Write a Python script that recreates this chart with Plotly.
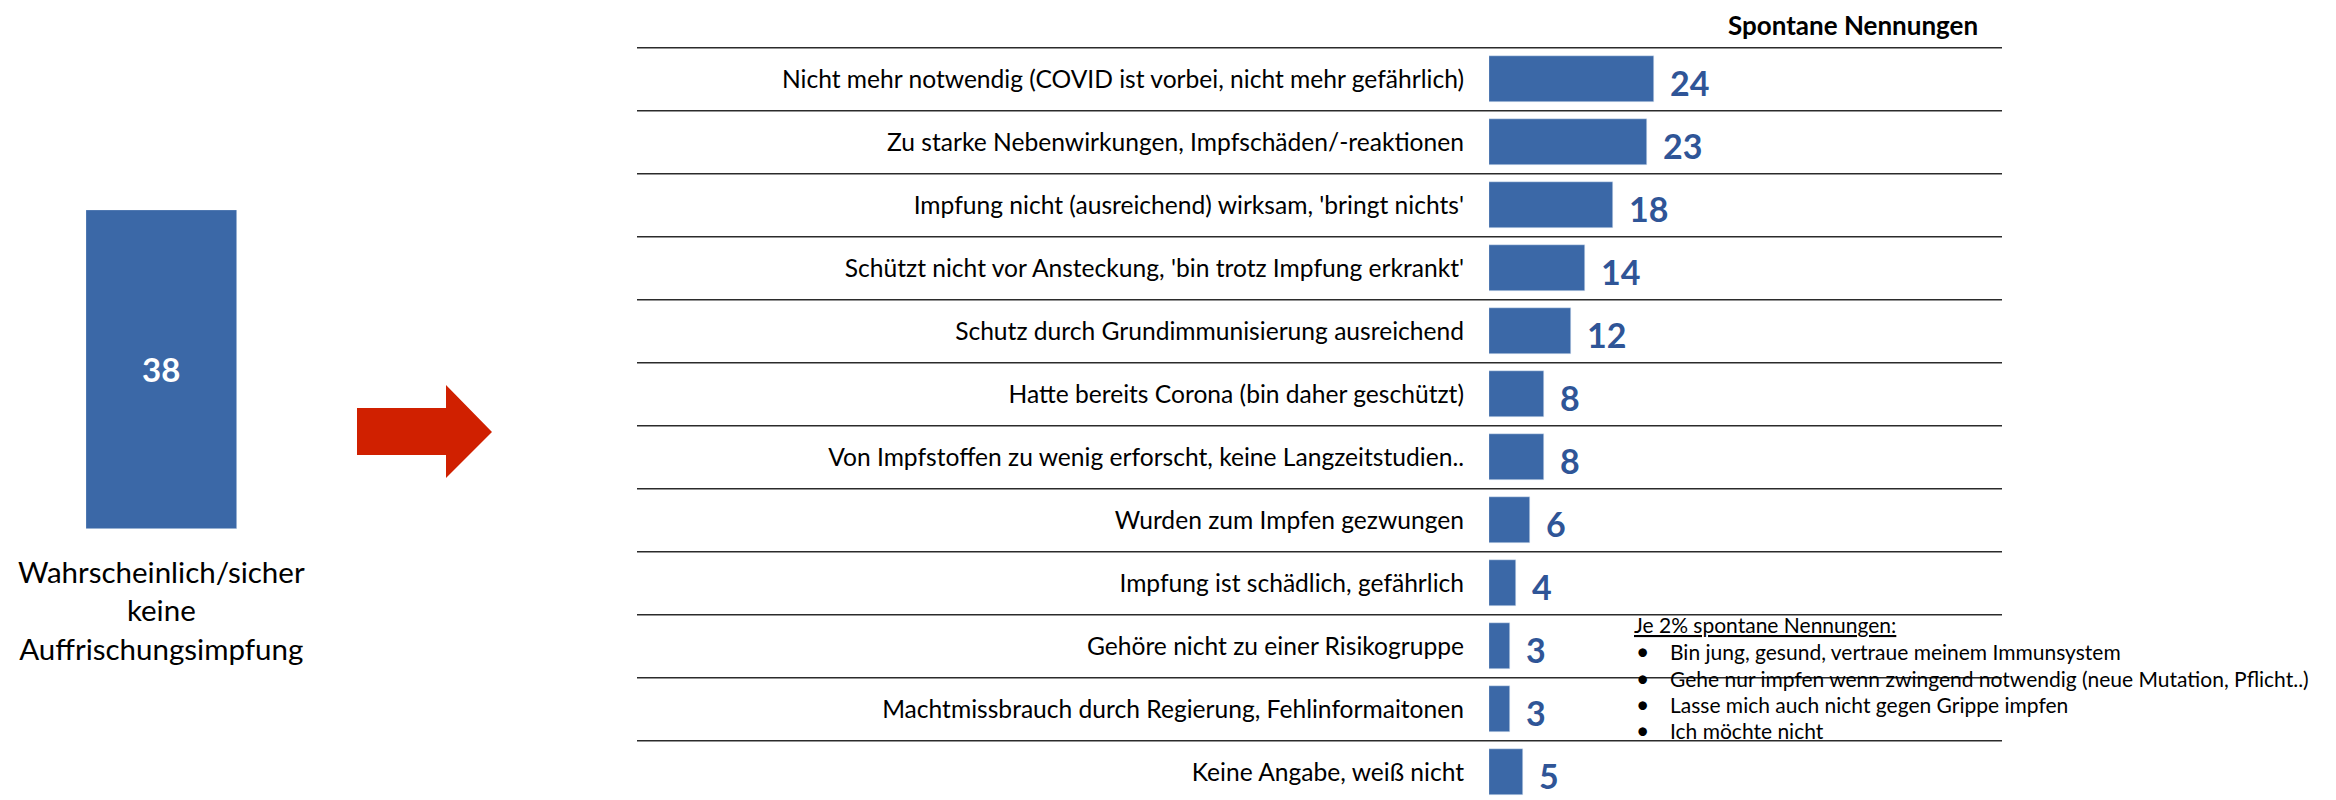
import plotly.graph_objects as go

# ---------------- data ----------------
categories = [
    "Nicht mehr notwendig (COVID ist vorbei, nicht mehr gefährlich)",
    "Zu starke Nebenwirkungen, Impfschäden/-reaktionen",
    "Impfung nicht (ausreichend) wirksam, 'bringt nichts'",
    "Schützt nicht vor Ansteckung, 'bin trotz Impfung erkrankt'",
    "Schutz durch Grundimmunisierung ausreichend",
    "Hatte bereits Corona (bin daher geschützt)",
    "Von Impfstoffen zu wenig erforscht, keine Langzeitstudien..",
    "Wurden zum Impfen gezwungen",
    "Impfung ist schädlich, gefährlich",
    "Gehöre nicht zu einer Risikogruppe",
    "Machtmissbrauch durch Regierung, Fehlinformaitonen",
    "Keine Angabe, weiß nicht",
]
values = [24, 23, 18, 14, 12, 8, 8, 6, 4, 3, 3, 5]

total_label = "Wahrscheinlich/sicher<br>keine<br>Auffrischungsimpfung"
total_value = 38

header = "Spontane Nennungen"
note_title = "Je 2% spontane Nennungen:"
note_items = [
    "Bin jung, gesund, vertraue meinem Immunsystem",
    "Gehe nur impfen wenn zwingend notwendig (neue Mutation, Pflicht..)",
    "Lasse mich auch nicht gegen Grippe impfen",
    "Ich möchte nicht",
]

# ---------------- style ----------------
W, H = 2336, 800
OFF = 8  # page body margin
FONT = "Lato"
BAR = "#3B68A7"
VAL = "#2F5597"
RED = "#D02000"

def px(x):
    return (x - OFF) / W

def py(y):
    return 1 - (y - OFF) / H

rows = list(range(len(categories)))

fig = go.Figure()

# right: horizontal bars
fig.add_trace(go.Bar(
    x=values, y=rows, orientation="h", marker_color=BAR, width=0.73,
    xaxis="x", yaxis="y", hoverinfo="skip", showlegend=False,
))

# left: single column
fig.add_trace(go.Bar(
    x=[0], y=[total_value], marker_color=BAR, width=1.0,
    text=[str(total_value)], textposition="inside", insidetextanchor="middle",
    textfont=dict(family=FONT, size=33, color="white", weight="bold"),
    xaxis="x2", yaxis="y2", hoverinfo="skip", showlegend=False,
))

row_h = 63.0
top_line = 47.7 - OFF
y_top = -0.5 - top_line / row_h
y_bot = -0.5 + (H - top_line) / row_h

shapes = []
for r in rows:
    shapes.append(dict(type="line", xref="paper", yref="y",
                       x0=px(637), x1=px(2002), y0=r - 0.5, y1=r - 0.5,
                       line=dict(color="#2b2b2b", width=1.6)))

# arrow
pts = [(357, 408), (446, 408), (446, 385), (492, 432), (446, 478), (446, 455), (357, 455)]
path = "M " + " L ".join(f"{px(x):.5f},{py(y):.5f}" for x, y in pts) + " Z"
shapes.append(dict(type="path", xref="paper", yref="paper", path=path,
                   fillcolor=RED, line=dict(width=0)))

annotations = []
for r, v in zip(rows, values):
    annotations.append(dict(x=v, y=r, xref="x", yref="y", text=f"<b>{v}</b>",
                            xanchor="left", yanchor="middle", xshift=14, yshift=-3,
                            showarrow=False,
                            font=dict(family=FONT, size=34, color=VAL)))

annotations.append(dict(x=px(1979), y=1, xref="paper", yref="paper",
                        text=f"<b>{header}</b>", xanchor="right", yanchor="top",
                        borderpad=0, showarrow=False,
                        font=dict(family=FONT, size=26, color="black")))

annotations.append(dict(x=0, y=py(552), xref="x2", yref="paper", text=total_label,
                        xanchor="center", yanchor="top", align="center", showarrow=False,
                        font=dict(family=FONT, size=29.5, color="black")))

NF = 21
annotations.append(dict(x=px(1632), y=py(624), xref="paper", yref="paper",
                        text=f"<u>{note_title}</u>", xanchor="left", yanchor="middle",
                        showarrow=False, font=dict(family=FONT, size=NF, color="black")))
note_ys = [651, 678, 704, 730]
for t, yy in zip(note_items, note_ys):
    annotations.append(dict(x=px(1634), y=py(yy), xref="paper", yref="paper",
                            text="•", xanchor="left", yanchor="middle",
                            showarrow=False, font=dict(family=FONT, size=NF + 2, color="black")))
    annotations.append(dict(x=px(1668), y=py(yy), xref="paper", yref="paper",
                            text=t, xanchor="left", yanchor="middle",
                            showarrow=False, font=dict(family=FONT, size=NF, color="black")))

fig.update_layout(
    width=W, height=H,
    margin=dict(l=0, r=0, t=0, b=0),
    paper_bgcolor="white", plot_bgcolor="white",
    font=dict(family=FONT, color="black"),
    bargap=0,
    xaxis=dict(domain=[px(1489), px(2002)], range=[0, 513 / 6.87],
               visible=False, fixedrange=True),
    yaxis=dict(domain=[0, 1], range=[y_bot, y_top], tickmode="array",
               tickvals=rows, ticktext=categories, showgrid=False, zeroline=False,
               showline=False, ticks="", ticklabelstandoff=24,
               tickfont=dict(family=FONT, size=24.6, color="black"), fixedrange=True),
    xaxis2=dict(domain=[px(86), px(237)], range=[-0.5, 0.5], visible=False,
                anchor="y2", fixedrange=True),
    yaxis2=dict(domain=[py(529), py(210)], range=[0, total_value], visible=False,
                anchor="x2", fixedrange=True),
    shapes=shapes,
    annotations=annotations,
)

fig.write_html("out.html")
